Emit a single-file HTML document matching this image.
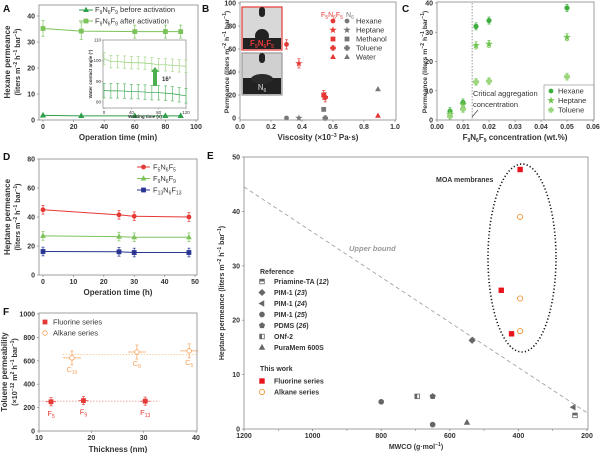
<!DOCTYPE html>
<html><head><meta charset="utf-8"><style>
body{margin:0;background:#fff}
svg{display:block;font-family:"Liberation Sans",Arial,sans-serif}
</style></head><body>
<svg id="fig" width="600" height="453" viewBox="0 0 600 453"></svg>
<script>
// ---- Panel A data ----
const aTimes=[0,25,60,80,90];
const aBefore=[1.8,1.6,1.6,1.6,1.6];
const aAfter=[35.2,34.2,34,34,34];
const aErr=[3,3.2,2.5,2.5,2.5];
const insetT=[0,10,20,30,40,50,60,70,80,90,100,110,120];
const insetHigh=[101,99.5,99.5,99.3,99,99,98.8,98.5,98,98,97.8,97.5,97.3];
const insetLow=[85.5,85.4,85.4,85.3,85,85,84.8,84.5,84.5,84.3,84,83.5,83];
// ---- Panel B data ----
const bSolvents=["Hexane","Heptane","Methanol","Toluene","Water"];
const bVisc=[0.30,0.38,0.54,0.55,0.89];
const bF5=[64,47.5,20,18,2];
const bN6=[0,0,7.5,0,25];
// ---- Panel C data ----
const cConc=[0.005,0.01,0.015,0.02,0.05];
const cHex=[3,6,32,34,38.3];
const cHep=[2,5.2,25.5,26,28.3];
const cTol=[1.3,3.7,13,13.3,14.8];
// ---- Panel D data ----
const dTimes=[0,25,30,48];
const dF5=[45,41.5,40.5,40];
const dF9=[27,26.5,26,26];
const dF13=[16.2,16,15.5,15.5];
// ---- Panel E data ----
const eFluoX=[395,450,420], eFluoY=[47.7,25.5,17.5];
const eAlkX=[395,395,395], eAlkY=[39,24,18];
const eRefNames=["Priamine-TA","PIM-1 (23)","PIM-1 (24)","PIM-1 (25)","PDMS (26)","ONf-2","PuraMem 600S","PDMS (26)"];
const eRefX=[235,535,240,800,650,695,550,650];
const eRefY=[2.5,16.3,4,5,6,6,1.2,0.8];
const eBound=[[1200,44.5],[200,3]];
// ---- Panel F data ----
const fFluoX=[12.3,18.5,30.3], fFluoY=[250,260,255], fFluoL=["F","F","F"], fFluoS=["5","9","13"];
const fAlkX=[16.3,28.7,38.7], fAlkY=[625,675,685], fAlkS=["10","8","5"];

const NS="http://www.w3.org/2000/svg";
const svg=document.getElementById('fig');
function el(tag,attrs,parent,txt){const e=document.createElementNS(NS,tag);for(const k in attrs)e.setAttribute(k,attrs[k]);if(txt!==undefined)e.textContent=txt;(parent||svg).appendChild(e);return e;}
function lin(d0,d1,r0,r1){return v=>r0+(v-d0)*(r1-r0)/(d1-d0);}
function text(x,y,s,o){o=o||{};const t=el('text',{x:x,y:y,'font-size':o.fs||7.5,fill:o.fill||'#333','text-anchor':o.a||'middle','font-weight':o.fw||'normal','font-style':o.it?'italic':'normal'},o.p,s);if(o.rot)t.setAttribute('transform',`rotate(${o.rot} ${x} ${y})`);return t;}
function rtext(x,y,html,o){o=o||{};const t=el('text',{x:x,y:y,'font-size':o.fs||7.5,fill:o.fill||'#333','text-anchor':o.a||'middle','font-weight':o.fw||'bold'},o.p);if(o.rot)t.setAttribute('transform',`rotate(${o.rot} ${x} ${y})`);t.innerHTML=html;return t;}
function box(x0,y0,x1,y1,name){const r=el('rect',{x:x0,y:y0,width:x1-x0,height:y1-y0,fill:'none',stroke:'#888','stroke-width':0.8});}
function marker(shape,x,y,s,fill,stroke,p){
  let e;
  if(shape==='circle')e=el('circle',{cx:x,cy:y,r:s},p);
  else if(shape==='square')e=el('rect',{x:x-s,y:y-s,width:2*s,height:2*s},p);
  else if(shape==='tri')e=el('polygon',{points:`${x},${y-s*1.2} ${x-s*1.1},${y+s*0.8} ${x+s*1.1},${y+s*0.8}`},p);
  else if(shape==='ltri')e=el('polygon',{points:`${x-s*1.2},${y} ${x+s*0.8},${y-s*1.1} ${x+s*0.8},${y+s*1.1}`},p);
  else if(shape==='diamond')e=el('polygon',{points:`${x},${y-s*1.3} ${x+s*1.3},${y} ${x},${y+s*1.3} ${x-s*1.3},${y}`},p);
  else if(shape==='star'){let pts=[];for(let i=0;i<10;i++){const r=i%2?s*0.5:s*1.3,a=-Math.PI/2+i*Math.PI/5;pts.push((x+r*Math.cos(a)).toFixed(1)+','+(y+r*Math.sin(a)).toFixed(1));}e=el('polygon',{points:pts.join(' ')},p);}
  else if(shape==='pent'){let pts=[];for(let i=0;i<5;i++){const a=-Math.PI/2+i*2*Math.PI/5;pts.push((x+s*1.2*Math.cos(a)).toFixed(1)+','+(y+s*1.2*Math.sin(a)).toFixed(1));}e=el('polygon',{points:pts.join(' ')},p);}
  else if(shape==='oct'){let pts=[];for(let i=0;i<8;i++){const a=Math.PI/8+i*Math.PI/4;pts.push((x+s*1.1*Math.cos(a)).toFixed(1)+','+(y+s*1.1*Math.sin(a)).toFixed(1));}e=el('polygon',{points:pts.join(' ')},p);}
  else if(shape==='cross'){e=el('path',{d:`M${x-s/2},${y-s*1.2}h${s}v${s*0.7}h${s*0.7}v${s}h-${s*0.7}v${s*0.7}h-${s}v-${s*0.7}h-${s*0.7}v-${s}h${s*0.7}z`},p);}
  e.setAttribute('fill',fill);e.setAttribute('stroke',stroke||fill);e.setAttribute('stroke-width',0.8);
  return e;
}
function errbar(x,y0,y1,c,p){el('line',{x1:x,y1:y0,x2:x,y2:y1,stroke:c,'stroke-width':0.7},p);el('line',{x1:x-1.5,y1:y0,x2:x+1.5,y2:y0,stroke:c,'stroke-width':0.7},p);el('line',{x1:x-1.5,y1:y1,x2:x+1.5,y2:y1,stroke:c,'stroke-width':0.7},p);}
function xticks(sx,vals,y,labels,p){vals.forEach((v,i)=>{el('line',{x1:sx(v),y1:y,x2:sx(v),y2:y+2,stroke:'#888','stroke-width':0.7},p);text(sx(v),y+9,labels[i],{p:p,fw:'bold',fs:7});});}
function yticks(sy,vals,x,labels,p){vals.forEach((v,i)=>{el('line',{x1:x,y1:sy(v),x2:x-2,y2:sy(v),stroke:'#888','stroke-width':0.7},p);text(x-4,sy(v)+2.5,labels[i],{p:p,a:'end',fw:'bold',fs:7});});}
function group(name){const g=el('g',{});return g;}
function polyline(xs,ys,sx,sy,c,p,w){el('polyline',{points:xs.map((v,i)=>sx(v)+','+sy(ys[i])).join(' '),fill:'none',stroke:c,'stroke-width':w||1},p);}

// ================= Panel A =================
(function(){
const g=group('panel-a');
const sx=lin(0,100,43,196), sy=lin(0,40,120,16);
box(39,5,198,120,'panel-a-plot-area');
text(3,12,'A',{p:g,a:'start',fw:'bold',fs:10,fill:'#111'});
xticks(sx,[0,20,40,60,80,100],120,['0','20','40','60','80','100'],g);
yticks(sy,[0,10,20,30,40],39,['0','10','20','30','40'],g);
text(118,140,'Operation time (min)',{p:g,fw:'bold',fs:8});
rtext(10,62,'Hexane permeance',{p:g,rot:-90,fs:8});
rtext(20,62,'(liters m<tspan font-size="5" dy="-3">−2</tspan><tspan dy="3"> h</tspan><tspan font-size="5" dy="-3">−1</tspan><tspan dy="3"> bar</tspan><tspan font-size="5" dy="-3">−1</tspan><tspan dy="3">)</tspan>',{p:g,rot:-90,fs:7.2});
const gB=group('series-before-activation');g.appendChild(gB);
polyline(aTimes,aBefore,sx,sy,'#2e9e4a',gB);
aTimes.forEach((t,i)=>marker('tri',sx(t),sy(aBefore[i]),2.2,'#2e9e4a',null,gB));
const gA=group('series-after-activation');g.appendChild(gA);
polyline(aTimes,aAfter,sx,sy,'#7cc35a',gA);
aTimes.forEach((t,i)=>{errbar(sx(t),sy(aAfter[i]-aErr[i]),sy(aAfter[i]+aErr[i]),'#7cc35a',gA);marker('square',sx(t),sy(aAfter[i]),2,'#7cc35a',null,gA);});
// legend
el('line',{x1:79,y1:10,x2:93,y2:10,stroke:'#2e9e4a'},g);marker('tri',86,10,2,'#2e9e4a',null,g);
rtext(95,12,'F<tspan font-size="5" dy="2">9</tspan><tspan dy="-2">N</tspan><tspan font-size="5" dy="2">6</tspan><tspan dy="-2">F</tspan><tspan font-size="5" dy="2">9</tspan><tspan dy="-2"> before activation</tspan>',{p:g,a:'start',fw:'normal',fs:7.5});
el('line',{x1:79,y1:21,x2:93,y2:21,stroke:'#7cc35a'},g);marker('square',86,21,2,'#7cc35a',null,g);
rtext(95,23.5,'F<tspan font-size="5" dy="2">9</tspan><tspan dy="-2">N</tspan><tspan font-size="5" dy="2">6</tspan><tspan dy="-2">F</tspan><tspan font-size="5" dy="2">9</tspan><tspan dy="-2"> after activation</tspan>',{p:g,a:'start',fw:'normal',fs:7.5});
// inset
const gi=group('inset-contact-angle');g.appendChild(gi);
el('rect',{x:103,y:40,width:83,height:68,fill:'#fff',stroke:'#888','stroke-width':0.7},gi);
const ix=lin(0,120,104,186), iy=lin(80,110,102,40);
[0,40,80,120].forEach(v=>{el('line',{x1:ix(v),y1:108,x2:ix(v),y2:109.5,stroke:'#888','stroke-width':0.5},gi);text(ix(v),114,String(v),{p:gi,fs:4.5});});
[80,90,100,110].forEach(v=>{el('line',{x1:103,y1:iy(v),x2:101.5,y2:iy(v),stroke:'#888','stroke-width':0.5},gi);text(101,iy(v)+1.5,String(v),{p:gi,fs:4.5,a:'end'});});
text(145,118,'Wetting time (s)',{p:gi,fs:4.5,fw:'bold'});
text(92,74,'Water contact angle (°)',{p:gi,fs:4.5,fw:'bold',rot:-90});
polyline(insetT,insetHigh,ix,iy,'#8fcf6e',gi,0.7);
polyline(insetT,insetLow,ix,iy,'#2e9e4a',gi,0.7);
insetT.forEach((t,i)=>{errbar(ix(t),iy(insetHigh[i]-3),iy(insetHigh[i]+3),'#a8d890',gi);errbar(ix(t),iy(insetLow[i]-3.5),iy(insetLow[i]+3.5),'#5bb86a',gi);});
el('rect',{x:153,y:71,width:4,height:15,fill:'#4caf50'},gi);
el('polygon',{points:'151,72 159,72 155,67',fill:'#4caf50'},gi);
text(162,81,'16°',{p:gi,fs:6,a:'start',fw:'bold'});
})();

// ================= Panel B =================
(function(){
const g=group('panel-b');
const sx=lin(0,1,240,395), sy=lin(0,100,118,3);
box(240,2,396,120,'panel-b-plot-area');
text(202,12,'B',{p:g,a:'start',fw:'bold',fs:10,fill:'#111'});
xticks(sx,[0,0.2,0.4,0.6,0.8,1.0],120,['0.0','0.2','0.4','0.6','0.8','1.0'],g);
yticks(sy,[0,20,40,60,80,100],240,['0','20','40','60','80','100'],g);
rtext(318,140,'Viscosity (×10<tspan font-size="5" dy="-3">−3</tspan><tspan dy="3"> Pa·s)</tspan>',{p:g,fs:8});
rtext(229,62,'Permeance (liters m<tspan font-size="5" dy="-3">−2</tspan><tspan dy="3"> h</tspan><tspan font-size="5" dy="-3">−1</tspan><tspan dy="3"> bar</tspan><tspan font-size="5" dy="-3">−1</tspan><tspan dy="3">)</tspan>',{p:g,rot:-90,fs:6.8});
// photos
const gp=group('contact-angle-photos');g.appendChild(gp);
el('rect',{x:242,y:7,width:40,height:43,fill:'#d8d8d8',stroke:'#e53935','stroke-width':1.2},gp);
el('rect',{x:243,y:38,width:38,height:11,fill:'#222'},gp);
el('circle',{cx:262,cy:36,r:7,fill:'#222'},gp);el('rect',{x:259,y:7,width:6,height:10,rx:3,fill:'#222'},gp);
rtext(262,46,'F<tspan font-size="5" dy="2">5</tspan><tspan dy="-2">N</tspan><tspan font-size="5" dy="2">6</tspan><tspan dy="-2">F</tspan><tspan font-size="5" dy="2">5</tspan>',{p:gp,fill:'#e53935',fs:8});
el('rect',{x:242,y:53,width:40,height:42,fill:'#d0d0d0',stroke:'#999','stroke-width':1.2},gp);
el('rect',{x:243,y:78,width:38,height:16,fill:'#222'},gp);
el('ellipse',{cx:262,cy:79,rx:11,ry:5,fill:'#2a2a2a'},gp);el('rect',{x:259,y:53,width:6,height:10,rx:3,fill:'#222'},gp);
rtext(262,90,'N<tspan font-size="5" dy="2">6</tspan>',{p:gp,fill:'#aaa',fs:8});
const shapes=['circle','star','square','cross','tri'];
const gF=group('series-f5n6f5');g.appendChild(gF);
bVisc.forEach((v,i)=>{if(i<4)errbar(sx(v),sy(bF5[i]-4),sy(bF5[i]+4),'#e53935',gF);marker(shapes[i],sx(v),sy(bF5[i]),2,'#e53935',null,gF);});
const gN=group('series-n6');g.appendChild(gN);
bVisc.forEach((v,i)=>marker(shapes[i],sx(v),sy(bN6[i]),2,'#777',null,gN));
// legend
const gl=group('panel-b-legend');g.appendChild(gl);
rtext(321,17,'F<tspan font-size="5" dy="2">5</tspan><tspan dy="-2">N</tspan><tspan font-size="5" dy="2">6</tspan><tspan dy="-2">F</tspan><tspan font-size="5" dy="2">5</tspan>',{p:gl,fill:'#e53935',a:'start',fs:7,fw:'normal'});
rtext(346,17,'N<tspan font-size="5" dy="2">6</tspan>',{p:gl,fill:'#777',a:'start',fs:7,fw:'normal'});
bSolvents.forEach((s,i)=>{const y=21+i*9;marker(shapes[i],333,y,2,'#e53935',null,gl);marker(shapes[i],347,y,2,'#777',null,gl);text(356,y+2.5,s,{p:gl,a:'start',fs:7.5});});
})();

// ================= Panel C =================
(function(){
const g=group('panel-c');
const sx=lin(0,0.06,437,593), sy=lin(0,40,120,3);
box(437,2,594,120,'panel-c-plot-area');
text(402,12,'C',{p:g,a:'start',fw:'bold',fs:10,fill:'#111'});
xticks(sx,[0,0.01,0.02,0.03,0.04,0.05,0.06],120,['0.00','0.01','0.02','0.03','0.04','0.05','0.06'],g);
yticks(sy,[0,10,20,30,40],437,['0','10','20','30','40'],g);
rtext(515,140,'F<tspan font-size="5" dy="2">9</tspan><tspan dy="-2">N</tspan><tspan font-size="5" dy="2">6</tspan><tspan dy="-2">F</tspan><tspan font-size="5" dy="2">9</tspan><tspan dy="-2"> concentration (wt.%)</tspan>',{p:g,fs:8});
rtext(427,62,'Permeance (liters m<tspan font-size="5" dy="-3">−2</tspan><tspan dy="3"> h</tspan><tspan font-size="5" dy="-3">−1</tspan><tspan dy="3"> bar</tspan><tspan font-size="5" dy="-3">−1</tspan><tspan dy="3">)</tspan>',{p:g,rot:-90,fs:6.8});
el('line',{x1:sx(0.0135),y1:3,x2:sx(0.0135),y2:120,stroke:'#555','stroke-width':0.6,'stroke-dasharray':'1.5,1.5'},g);
text(473,96,'Critical aggregation',{p:g,a:'start',fs:7.5});
text(473,107,'concentration',{p:g,a:'start',fs:7.5});
el('line',{x1:478,y1:110,x2:472,y2:117,stroke:'#333','stroke-width':0.6},g);
const series=[[cHex,'circle','#3fae3f','hexane'],[cHep,'star','#6cc24a','heptane'],[cTol,'cross','#9bd57e','toluene']];
series.forEach(([ys,sh,c,n])=>{const gs=group('series-'+n);g.appendChild(gs);cConc.forEach((v,i)=>{errbar(sx(v),sy(ys[i]-1.2),sy(ys[i]+1.2),c,gs);marker(sh,sx(v),sy(ys[i]),2.2,c,null,gs);});});
const gl=group('panel-c-legend');g.appendChild(gl);
el('rect',{x:544,y:85,width:50,height:35,fill:'#fff',stroke:'#888','stroke-width':0.6},gl);
[['Hexane','circle','#3fae3f'],['Heptane','star','#6cc24a'],['Toluene','cross','#9bd57e']].forEach(([s,sh,c],i)=>{const y=91+i*9.5;marker(sh,551,y,2,c,null,gl);text(558,y+2.5,s,{p:gl,a:'start',fs:7.5});});
})();

// ================= Panel D =================
(function(){
const g=group('panel-d');
const sx=lin(0,50,43,195), sy=lin(0,80,275,159);
box(39,159,197,275,'panel-d-plot-area');
text(3,160,'D',{p:g,a:'start',fw:'bold',fs:10,fill:'#111'});
xticks(sx,[0,10,20,30,40,50],275,['0','10','20','30','40','50'],g);
yticks(sy,[0,20,40,60,80],39,['0','20','40','60','80'],g);
text(118,295,'Operation time (h)',{p:g,fw:'bold',fs:8});
rtext(10,217,'Heptane permeance',{p:g,rot:-90,fs:8});
rtext(20,217,'(liters m<tspan font-size="5" dy="-3">−2</tspan><tspan dy="3"> h</tspan><tspan font-size="5" dy="-3">−1</tspan><tspan dy="3"> bar</tspan><tspan font-size="5" dy="-3">−1</tspan><tspan dy="3">)</tspan>',{p:g,rot:-90,fs:7.2});
const series=[[dF5,'circle','#e53935','5','f5n6f5'],[dF9,'tri','#7cc35a','9','f9n6f9'],[dF13,'square','#283593','13','f13n6f13']];
series.forEach(([ys,sh,c,n,name],k)=>{const gs=group('series-'+name);g.appendChild(gs);polyline(dTimes,ys,sx,sy,c,gs);dTimes.forEach((t,i)=>{errbar(sx(t),sy(ys[i]-3),sy(ys[i]+3),c,gs);marker(sh,sx(t),sy(ys[i]),2,c,null,gs);});
 const y=167+k*11.5;el('line',{x1:137,y1:y,x2:150,y2:y,stroke:c},g);marker(sh,143.5,y,2,c,null,g);
 rtext(153,y+2.5,`F<tspan font-size="5" dy="2">${n}</tspan><tspan dy="-2">N</tspan><tspan font-size="5" dy="2">6</tspan><tspan dy="-2">F</tspan><tspan font-size="5" dy="2">${n}</tspan>`,{p:g,a:'start',fs:7.5,fw:'normal'});});
})();

// ================= Panel F =================
(function(){
const g=group('panel-f');
const sx=lin(10,40,39,196), sy=lin(0,1000,431,314);
box(39,313,197,431,'panel-f-plot-area');
text(3,315,'F',{p:g,a:'start',fw:'bold',fs:10,fill:'#111'});
xticks(sx,[10,20,30,40],431,['10','20','30','40'],g);
yticks(sy,[0,200,400,600,800,1000],39,['0','200','400','600','800','1000'],g);
text(118,452,'Thickness (nm)',{p:g,fw:'bold',fs:8});
rtext(7,372,'Toluene permeability',{p:g,rot:-90,fs:8});
rtext(17,372,'(×10<tspan font-size="5" dy="-3">−12</tspan><tspan dy="3"> m</tspan><tspan font-size="5" dy="-3">2</tspan><tspan dy="3"> h</tspan><tspan font-size="5" dy="-3">−1</tspan><tspan dy="3"> bar</tspan><tspan font-size="5" dy="-3">−1</tspan><tspan dy="3">)</tspan>',{p:g,rot:-90,fs:7.2});
el('line',{x1:sx(10),y1:sy(255),x2:sx(33),y2:sy(255),stroke:'#ef9a9a','stroke-width':0.8,'stroke-dasharray':'1.5,1.5'},g);
el('line',{x1:sx(14.5),y1:sy(655),x2:sx(40),y2:sy(655),stroke:'#f5c089','stroke-width':0.8,'stroke-dasharray':'1.5,1.5'},g);
const gf=group('series-fluorine');g.appendChild(gf);
fFluoX.forEach((x,i)=>{const X=sx(x),Y=sy(fFluoY[i]);el('line',{x1:X-5,y1:Y,x2:X+5,y2:Y,stroke:'#e53935','stroke-width':0.7},gf);errbar(X,sy(fFluoY[i]-35),sy(fFluoY[i]+35),'#e53935',gf);marker('square',X,Y,2,'#e53935',null,gf);
 rtext(X,Y+14,`${fFluoL[i]}<tspan font-size="5" dy="2">${fFluoS[i]}</tspan>`,{p:gf,fill:'#e53935',fs:7.5,fw:'normal'});});
const ga=group('series-alkane');g.appendChild(ga);
fAlkX.forEach((x,i)=>{const X=sx(x),Y=sy(fAlkY[i]);el('line',{x1:X-9,y1:Y,x2:X+9,y2:Y,stroke:'#f5a25d','stroke-width':0.7},ga);errbar(X,sy(fAlkY[i]-60),sy(fAlkY[i]+60),'#f5a25d',ga);marker('circle',X,Y,2.3,'#fff','#f5a25d',ga);
 rtext(X,Y+14,`C<tspan font-size="5" dy="2">${fAlkS[i]}</tspan>`,{p:ga,fill:'#f5a25d',fs:7.5,fw:'normal'});});
marker('square',45,322,2,'#e53935',null,g);text(53,324.5,'Fluorine series',{p:g,a:'start',fs:7.5});
marker('circle',45,333,2.3,'#fff','#f5a25d',g);text(53,335.5,'Alkane series',{p:g,a:'start',fs:7.5});
})();

// ================= Panel E =================
(function(){
const g=group('panel-e');
const sx=lin(1200,200,244,587), sy=lin(0,50,429,157);
box(244,157,588,429,'panel-e-plot-area');
text(207,159,'E',{p:g,a:'start',fw:'bold',fs:10,fill:'#111'});
[1200,1100,1000,900,800,700,600,500,400,300,200].forEach(v=>el('line',{x1:sx(v),y1:429,x2:sx(v),y2:431,stroke:'#888','stroke-width':0.6},g));
xticks(sx,[1200,1000,800,600,400,200],429,['1200','1000','800','600','400','200'],g);
yticks(sy,[0,10,20,30,40,50],244,['0','10','20','30','40','50'],g);
rtext(416,449,'MWCO (g·mol<tspan font-size="5" dy="-3">−1</tspan><tspan dy="3">)</tspan>',{p:g,fs:7});
rtext(224,293,'Heptane permeance (liters m<tspan font-size="5" dy="-3">−2</tspan><tspan dy="3"> h</tspan><tspan font-size="5" dy="-3">−1</tspan><tspan dy="3"> bar</tspan><tspan font-size="5" dy="-3">−1</tspan><tspan dy="3">)</tspan>',{p:g,rot:-90,fs:7});
const ub=el('line',{x1:sx(eBound[0][0]),y1:sy(eBound[0][1]),x2:sx(eBound[1][0]),y2:sy(eBound[1][1]),stroke:'#999','stroke-width':0.8,'stroke-dasharray':'4,3'},g);

text(349,251,'Upper bound',{p:g,a:'start',fs:7.5,it:true,fw:'bold',fill:'#999'});
el('ellipse',{cx:522,cy:258,rx:34,ry:94,fill:'none',stroke:'#111','stroke-width':1.6,'stroke-dasharray':'1.2,2.2'},g);
text(436,182,'MOA membranes',{p:g,a:'start',fs:7,fw:'bold'});
const refShapes=['halfsq','diamond','ltri','oct','pent','halfsq2','tri','oct'];
const gr=group('series-reference');g.appendChild(gr);
function refMark(sh,x,y,p){
  if(sh==='halfsq'){el('rect',{x:x-2.3,y:y-2.3,width:4.6,height:4.6,fill:'#fff',stroke:'#666','stroke-width':0.8},p);el('rect',{x:x-2.3,y:y-2.3,width:4.6,height:2.3,fill:'#666'},p);}
  else if(sh==='halfsq2'){el('rect',{x:x-2.3,y:y-2.3,width:4.6,height:4.6,fill:'#fff',stroke:'#666','stroke-width':0.8},p);el('rect',{x:x-2.3,y:y-2.3,width:2.3,height:4.6,fill:'#666'},p);}
  else marker(sh,x,y,2.3,'#666',null,p);
}
eRefX.forEach((v,i)=>refMark(refShapes[i],sx(v),sy(eRefY[i]),gr));
const gf=group('series-fluorine');g.appendChild(gf);
eFluoX.forEach((v,i)=>marker('square',sx(v),sy(eFluoY[i]),2.3,'#e8141c',null,gf));
const ga=group('series-alkane');g.appendChild(ga);
eAlkX.forEach((v,i)=>marker('circle',sx(v),sy(eAlkY[i]),2.6,'#fff','#f08a24',ga));
const gl=group('panel-e-legend');g.appendChild(gl);
text(260,274,'Reference',{p:gl,a:'start',fs:7,fw:'bold'});
const labels=['Priamine-TA (<tspan font-style="italic">12</tspan>)','PIM-1 (<tspan font-style="italic">23</tspan>)','PIM-1 (<tspan font-style="italic">24</tspan>)','PIM-1 (<tspan font-style="italic">25</tspan>)','PDMS (<tspan font-style="italic">26</tspan>)','ONf-2','PuraMem 600S'];
labels.forEach((l,i)=>{const y=281.5+i*11;refMark(refShapes[i],262,y,gl);rtext(274,y+2.5,l,{p:gl,a:'start',fs:7});});
text(260,371,'This work',{p:gl,a:'start',fs:7,fw:'bold'});
marker('square',262,381,2.3,'#e8141c',null,gl);text(274,383.5,'Fluorine series',{p:gl,a:'start',fs:7,fw:'bold'});
marker('circle',262,392,2.6,'#fff','#f08a24',gl);text(274,394.5,'Alkane series',{p:gl,a:'start',fs:7,fw:'bold'});
})();
</script>
</body></html>
